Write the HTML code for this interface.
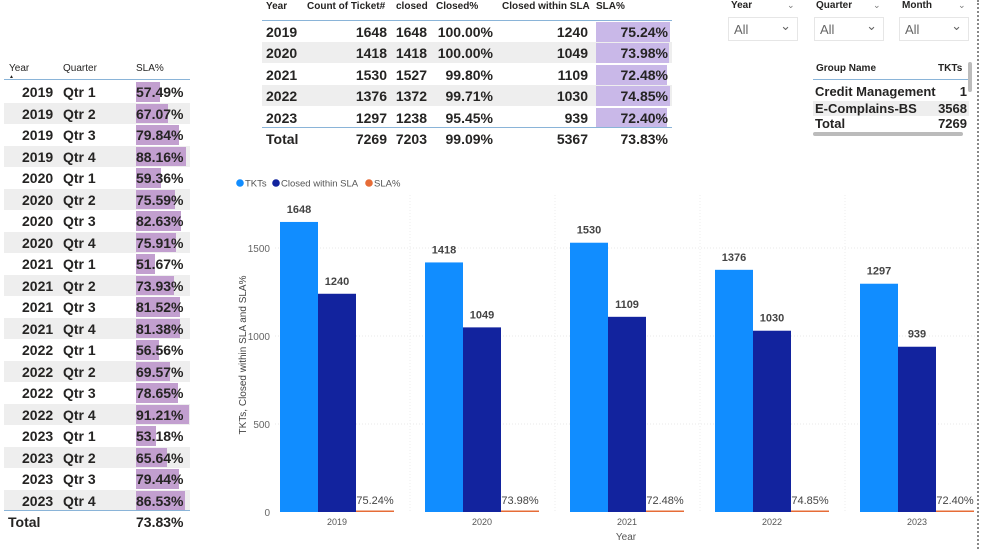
<!DOCTYPE html>
<html><head><meta charset="utf-8">
<style>
body{margin:0;width:981px;height:549px;background:#fff;font-family:"Liberation Sans",sans-serif;position:relative;overflow:hidden;color:#252423}
.a{position:absolute;white-space:nowrap}
.h{font-size:10px;color:#252423}
.b{font-size:13px;font-weight:bold}
.r{text-align:right}
</style></head><body>
<div id="left"></div>
<div id="top"></div>

<div class="a h" style="left:731px;top:0px;font-weight:bold">Year</div>
<div class="a" style="left:787px;top:0;font-size:9px;color:#777">&#8964;</div>
<div class="a" style="left:728px;top:17px;width:70px;height:24px;border:1px solid #e6e6e6;font-size:13px;color:#666;line-height:24px;padding-left:5px;box-sizing:border-box">All<span style="position:absolute;right:6px;top:-4px">&#8964;</span></div>
<div class="a h" style="left:816px;top:0px;font-weight:bold">Quarter</div>
<div class="a" style="left:873px;top:0;font-size:9px;color:#777">&#8964;</div>
<div class="a" style="left:814px;top:17px;width:70px;height:24px;border:1px solid #e6e6e6;font-size:13px;color:#666;line-height:24px;padding-left:5px;box-sizing:border-box">All<span style="position:absolute;right:6px;top:-4px">&#8964;</span></div>
<div class="a h" style="left:902px;top:0px;font-weight:bold">Month</div>
<div class="a" style="left:958px;top:0;font-size:9px;color:#777">&#8964;</div>
<div class="a" style="left:899px;top:17px;width:70px;height:24px;border:1px solid #e6e6e6;font-size:13px;color:#666;line-height:24px;padding-left:5px;box-sizing:border-box">All<span style="position:absolute;right:6px;top:-4px">&#8964;</span></div>

<div>
<div class="a h" style="left:816px;top:63px;font-weight:bold">Group Name</div>
<div class="a h" style="left:938px;top:63px;font-weight:bold">TKTs</div>
<div class="a" style="left:813px;top:79px;width:156px;border-top:1px solid #8ab4d8"></div>
<div class="a b" style="left:815px;top:84px;">Credit Management</div>
<div class="a b r" style="left:930px;top:84px;width:37px;">1</div>
<div class="a" style="left:813px;top:101px;width:156px;height:15px;background:#eeeeee;overflow:hidden"><div class="a b" style="left:2px;top:0;">E-Complains-BS</div><div class="a b r" style="left:117px;top:0;width:37px;">3568</div></div>
<div class="a b" style="left:815px;top:116px;">Total</div>
<div class="a b r" style="left:930px;top:116px;width:37px;">7269</div>
<div class="a" style="left:813px;top:132px;width:150px;height:4px;background:#bbb;border-radius:2px"></div>
<div class="a" style="left:968px;top:62px;width:4px;height:30px;background:#bbb;border-radius:2px"></div>
<div class="a" style="left:977px;top:0;height:549px;border-left:2px dotted #888"></div>
</div>

<svg class="a" style="left:0;top:0" width="981" height="549" id="chart"></svg>

<script>
const quarters=["2019 Qtr 1","2019 Qtr 2","2019 Qtr 3","2019 Qtr 4","2020 Qtr 1","2020 Qtr 2","2020 Qtr 3","2020 Qtr 4","2021 Qtr 1","2021 Qtr 2","2021 Qtr 3","2021 Qtr 4","2022 Qtr 1","2022 Qtr 2","2022 Qtr 3","2022 Qtr 4","2023 Qtr 1","2023 Qtr 2","2023 Qtr 3","2023 Qtr 4"];
const quarterSla=[57.49,67.07,79.84,88.16,59.36,75.59,82.63,75.91,51.67,73.93,81.52,81.38,56.56,69.57,78.65,91.21,53.18,65.64,79.44,86.53];
const years=["2019","2020","2021","2022","2023"];
const tkts=[1648,1418,1530,1376,1297];
const closed=[1648,1418,1527,1372,1238];
const closedPct=["100.00%","100.00%","99.80%","99.71%","95.45%"];
const withinSla=[1240,1049,1109,1030,939];
const slaPct=[75.24,73.98,72.48,74.85,72.40];
const yTicks=[0,500,1000,1500];

function div(parent,html,style,name){const d=document.createElement('div');d.className='a';d.innerHTML=html;d.style.cssText=style;


parent.appendChild(d);return d;}

// left table
const L=document.getElementById('left');
div(L,'Year','left:9px;top:63px;font-size:10px','year-header');
div(L,'▲','left:9px;top:74px;font-size:5px','sort-indicator');
div(L,'Quarter','left:63px;top:63px;font-size:10px','quarter-header');
div(L,'SLA%','left:136px;top:63px;font-size:10px','sla-header');
div(L,'','left:4px;top:79px;width:186px;border-top:1px solid #8ab4d8','header-line');
const rh=21.5;
quarters.forEach((q,i)=>{const y=81+i*rh;
 if(i%2==1) div(L,'','left:4px;top:'+(y)+'px;width:186px;height:'+rh+'px;background:#eeeeee','row-band');
 const w=Math.max(0,0.85*quarterSla[i]-25);
 div(L,'','left:136px;top:'+(y+1)+'px;width:'+w+'px;height:'+(rh-2)+'px;background:#c29fcf','sla-databar');
 const p=q.split(' ');
 div(L,p[0],'left:22px;top:'+(y+3)+'px;font-size:14px;font-weight:bold','row-year');
 div(L,p[1]+' '+p[2],'left:63px;top:'+(y+3)+'px;font-size:14px;font-weight:bold','row-quarter');
 div(L,quarterSla[i].toFixed(2)+'%','left:136px;top:'+(y+3)+'px;font-size:14px;font-weight:bold','row-sla');
});
div(L,'','left:4px;top:510px;width:186px;border-top:1px solid #8ab4d8','total-line');
div(L,'Total','left:8px;top:514px;font-size:14px;font-weight:bold','total-label');
div(L,'73.83%','left:136px;top:514px;font-size:14px;font-weight:bold','total-sla');

// top table
const T=document.getElementById('top');
[['Year',266],['Count of Ticket#',307],['closed',396],['Closed%',436],['Closed within SLA',502],['SLA%',596]].forEach(h=>div(T,h[0],'left:'+h[1]+'px;top:1px;font-size:10px;font-weight:bold','col-header'));
div(T,'','left:262px;top:20px;width:410px;border-top:1px solid #8ab4d8','header-line');
const R=(txt,right,top,name)=>div(T,txt,'left:'+(right-100)+'px;width:100px;text-align:right;top:'+top+'px;font-size:14px;font-weight:bold',name);
years.forEach((y,i)=>{const t=21+i*21.4;
 if(i%2==1) div(T,'','left:262px;top:'+t+'px;width:410px;height:21px;background:#eeeeee','row-band');
 div(T,'','left:596px;top:'+(t+1)+'px;width:'+(74*slaPct[i]/75.24)+'px;height:20px;background:#c9b8e8','sla-cell-bar');
 div(T,y,'left:266px;top:'+(t+3)+'px;font-size:14px;font-weight:bold','row-year');
 R(tkts[i],387,t+3,'row-count');R(closed[i],427,t+3,'row-closed');R(closedPct[i],493,t+3,'row-closed-pct');
 R(withinSla[i],588,t+3,'row-within-sla');R(slaPct[i].toFixed(2)+'%',668,t+3,'row-sla-pct');
});
div(T,'','left:262px;top:127px;width:410px;border-top:1px solid #8ab4d8','total-line');
div(T,'Total','left:266px;top:131px;font-size:14px;font-weight:bold','total-label');
R(7269,387,131,'total-count');R(7203,427,131,'total-closed');R('99.09%',493,131,'total-closed-pct');R(5367,588,131,'total-within-sla');R('73.83%',668,131,'total-sla');

// chart
const S=document.getElementById('chart');const NS='http://www.w3.org/2000/svg';
function el(tag,attrs,name,text){const e=document.createElementNS(NS,tag);for(const k in attrs)e.setAttribute(k,attrs[k]);


if(text!==undefined)e.textContent=text;S.appendChild(e);return e;}
const y0=512,scale=264/1500;
const yS=v=>y0-v*scale;
const xC=i=>337+i*145;
const bw=38;
yTicks.forEach(t=>{
 if(t>0) el('line',{x1:275,x2:975,y1:yS(t),y2:yS(t),stroke:'#e8e8e8','stroke-dasharray':'1,2'},'gridline');
 el('text',{x:270,y:yS(t)+4,'font-size':10,fill:'#666','text-anchor':'end','font-family':'Liberation Sans'},'y-tick-label',String(t));
});
years.forEach((y,i)=>{
 if(i>0) el('line',{x1:xC(i)-72,x2:xC(i)-72,y1:195,y2:512,stroke:'#eeeeee','stroke-dasharray':'1,2'},'x-gridline');
 const c=xC(i);
 el('rect',{x:c-57,y:yS(tkts[i]),width:bw,height:tkts[i]*scale,fill:'#118dff'},'bar-tkts-'+y);
 el('rect',{x:c-19,y:yS(withinSla[i]),width:bw,height:withinSla[i]*scale,fill:'#12239e'},'bar-closed-sla-'+y);
 const sh=Math.max(1.5,slaPct[i]/100*scale);
 el('rect',{x:c+19,y:y0-sh,width:bw,height:sh,fill:'#e66c37'},'bar-sla-pct-'+y);
 el('text',{x:c-38,y:yS(tkts[i])-9,'font-size':11,'font-weight':'bold',fill:'#444','text-anchor':'middle','font-family':'Liberation Sans'},'label-tkts',tkts[i]);
 el('text',{x:c,y:yS(withinSla[i])-9,'font-size':11,'font-weight':'bold',fill:'#444','text-anchor':'middle','font-family':'Liberation Sans'},'label-closed-sla',withinSla[i]);
 el('text',{x:c+38,y:504,'font-size':11,fill:'#444','text-anchor':'middle','font-family':'Liberation Sans'},'label-sla-pct',slaPct[i].toFixed(2)+'%');
 el('text',{x:c,y:525,'font-size':9,fill:'#555','text-anchor':'middle','font-family':'Liberation Sans'},'x-tick-label',y);
});
el('text',{x:626,y:540,'font-size':10,fill:'#555','text-anchor':'middle','font-family':'Liberation Sans'},'x-axis-title','Year');
el('text',{x:0,y:0,'font-size':10,fill:'#444','text-anchor':'middle','font-family':'Liberation Sans',transform:'translate(246,355) rotate(-90)'},'y-axis-title','TKTs, Closed within SLA and SLA%');
[['TKTs','#118dff',236],['Closed within SLA','#12239e',272],['SLA%','#e66c37',365]].forEach(l=>{
 el('circle',{cx:l[2]+4,cy:183,r:3.8,fill:l[1]},'legend-marker');
 el('text',{x:l[2]+9,y:186.5,'font-size':9.5,fill:'#555','font-family':'Liberation Sans'},'legend-entry',l[0]);
});
</script>
</body></html>
